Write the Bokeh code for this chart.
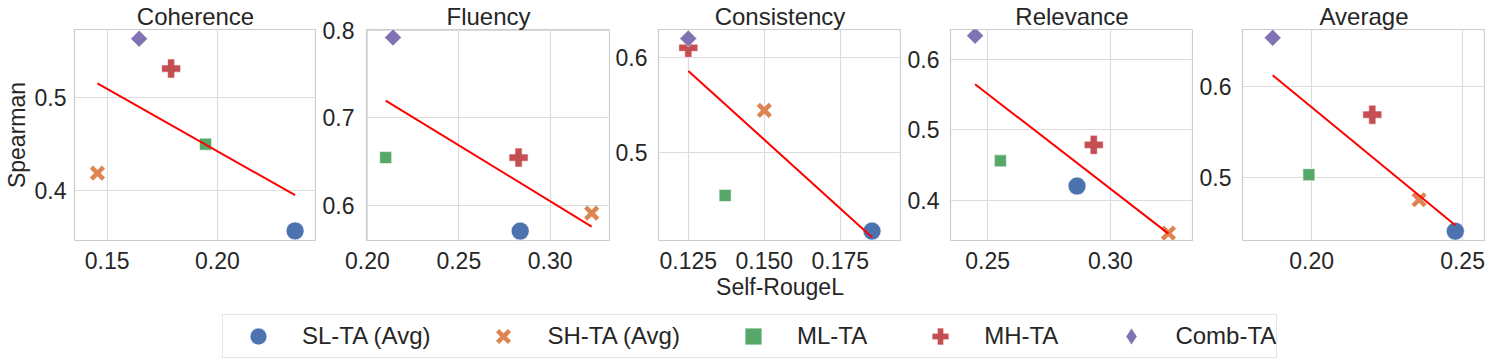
import numpy as np
from bokeh.plotting import figure
from bokeh.layouts import row, column
from bokeh.models import (Range1d, FixedTicker, Legend, LegendItem,
                          ColumnDataSource, PrintfTickFormatter)
from bokeh.embed import file_html
from bokeh.resources import INLINE

# ---------------- data ----------------
categories = ["SL-TA (Avg)", "SH-TA (Avg)", "ML-TA", "MH-TA", "Comb-TA"]
panels = ["Coherence", "Fluency", "Consistency", "Relevance", "Average"]

# Self-RougeL (x) and Spearman (y), order = categories
coherence_x = [0.2352, 0.1456, 0.1946, 0.1790, 0.1645]
coherence_y = [0.357, 0.419, 0.450, 0.531, 0.563]
fluency_x = [0.2836, 0.3227, 0.2100, 0.2827, 0.2140]
fluency_y = [0.5707, 0.5913, 0.6546, 0.6546, 0.7917]
consistency_x = [0.1854, 0.1500, 0.1371, 0.1250, 0.1250]
consistency_y = [0.4173, 0.5447, 0.4549, 0.6106, 0.6204]
relevance_x = [0.2864, 0.3236, 0.2552, 0.2932, 0.2449]
relevance_y = [0.4200, 0.3530, 0.4558, 0.4786, 0.6338]
average_x = [0.2476, 0.2356, 0.1991, 0.2201, 0.1871]
average_y = [0.4410, 0.4755, 0.5030, 0.5689, 0.6532]

# tick labels
x_tick_labels = [["0.15", "0.20"], ["0.20", "0.25", "0.30"],
                 ["0.125", "0.150", "0.175"], ["0.25", "0.30"], ["0.20", "0.25"]]
y_tick_labels = [["0.4", "0.5"], ["0.6", "0.7", "0.8"], ["0.5", "0.6"],
                 ["0.4", "0.5", "0.6"], ["0.5", "0.6"]]

# axis limits
x_limits = [(0.1352, 0.2449), (0.1995, 0.3330), (0.1152, 0.1951),
            (0.2349, 0.3338), (0.1771, 0.2576)]
y_limits = [(0.3467, 0.5729), (0.5600, 0.8008), (0.4074, 0.6299),
            (0.3425, 0.6427), (0.4308, 0.6623)]

# ---------------- styles ----------------
colors = ["#4C72B0", "#DD8452", "#55A868", "#C44E52", "#8172B3"]
markers = ["circle", "x", "square", "plus", "square"]
legend_markers = ["circle", "x", "square", "plus", "diamond"]
sizes = [18, 17, 12, 19, 12]
angles = [0, 0, 0, 0, np.pi / 4]
FONT = "Liberation Sans"
TXT = "#262626"

xs_all = [coherence_x, fluency_x, consistency_x, relevance_x, average_x]
ys_all = [coherence_y, fluency_y, consistency_y, relevance_y, average_y]

frame_widths = [242, 244, 243, 243, 243]
left_borders = [68, 50, 48, 49, 49]
y_standoffs = [8, 12, 11, 11, 11]


def add_marker(p, x, y, i, marker_list=markers):
    src = ColumnDataSource(dict(x=[x[i]], y=[y[i]]))
    if marker_list[i] == "x":
        r = p.scatter("x", "y", source=src, marker="x", size=sizes[i],
                      line_color=colors[i], line_width=4.5)
    else:
        r = p.scatter("x", "y", source=src, marker=marker_list[i], size=sizes[i],
                      angle=angles[i] if marker_list is markers else 0,
                      fill_color=colors[i],
                      line_color="white", line_width=0.6)
    return r


figs = []
for k, name in enumerate(panels):
    p = figure(frame_width=frame_widths[k], frame_height=211,
               x_range=Range1d(*x_limits[k]), y_range=Range1d(*y_limits[k]),
               output_backend="svg", toolbar_location=None,
               min_border_left=left_borders[k], min_border_right=0,
               min_border_top=23, min_border_bottom=66, title=name)
    p.title.text_font = FONT
    p.title.text_font_size = "24px"
    p.title.text_font_style = "normal"
    p.title.text_color = TXT
    p.title.align = "center"
    p.title.standoff = 0

    xt = [float(t) for t in x_tick_labels[k]]
    yt = [float(t) for t in y_tick_labels[k]]
    p.xaxis.ticker = FixedTicker(ticks=xt)
    p.yaxis.ticker = FixedTicker(ticks=yt)
    xdec = len(x_tick_labels[k][0].split(".")[1])
    ydec = len(y_tick_labels[k][0].split(".")[1])
    p.xaxis.formatter = PrintfTickFormatter(format="%%.%df" % xdec)
    p.yaxis.formatter = PrintfTickFormatter(format="%%.%df" % ydec)

    for ax in (p.xaxis[0], p.yaxis[0]):
        ax.major_tick_line_color = None
        ax.minor_tick_line_color = None
        ax.major_tick_out = 0
        ax.major_tick_in = 0
        ax.minor_tick_out = 0
        ax.axis_line_color = None
        ax.major_label_text_font = FONT
        ax.major_label_text_font_size = "23px"
        ax.major_label_text_color = TXT
        ax.axis_label_text_font = FONT
        ax.axis_label_text_font_size = "23px"
        ax.axis_label_text_font_style = "normal"
        ax.axis_label_text_color = TXT
    p.xaxis.major_label_standoff = 11
    p.yaxis.major_label_standoff = y_standoffs[k]
    if k == 0:
        p.yaxis.axis_label = "Spearman"
        p.yaxis.axis_label_standoff = 2
    if k == 2:
        p.xaxis.axis_label = "Self-RougeL"
        p.xaxis.axis_label_standoff = 2

    p.grid.grid_line_color = "#dcdcdc"
    p.grid.grid_line_width = 1.2
    p.outline_line_color = "#cccccc"
    p.outline_line_width = 1.2
    p.background_fill_color = "white"
    p.border_fill_color = "white"

    x = xs_all[k]
    y = ys_all[k]
    for i in range(len(categories)):
        add_marker(p, x, y, i)

    # least-squares regression line over the data range
    slope, intercept = np.polyfit(x, y, 1)
    lx = [min(x), max(x)]
    ly = [slope * v + intercept for v in lx]
    p.line(x="x", y="y", source=ColumnDataSource(dict(x=lx, y=ly)),
           line_color="#ff0000", line_width=2)
    figs.append(p)

# ---------------- legend ----------------
lf = figure(width=1479, height=52, x_range=Range1d(0, 1), y_range=Range1d(0, 1),
            output_backend="svg", toolbar_location=None,
            min_border=0)
lf.axis.visible = False
lf.grid.visible = False
lf.outline_line_color = None
items = []
for i, c in enumerate(categories):
    r = add_marker(lf, average_x, average_y, i, legend_markers)
    r.visible = False  # only its legend glyph is shown
    items.append(LegendItem(label=c, renderers=[r]))
leg = Legend(items=items, orientation="horizontal", location=(222, 0),
             glyph_width=70, glyph_height=42, label_standoff=9, spacing=38,
             padding=0, margin=0, border_line_color="#cccccc",
             border_line_width=1.2,
             label_text_font=FONT, label_text_font_size="24px",
             label_text_color=TXT, label_height=42)
lf.add_layout(leg, "center")

layout = column(row(*figs, spacing=0), lf, spacing=0)
open("out.html", "w").write(file_html(layout, INLINE))
